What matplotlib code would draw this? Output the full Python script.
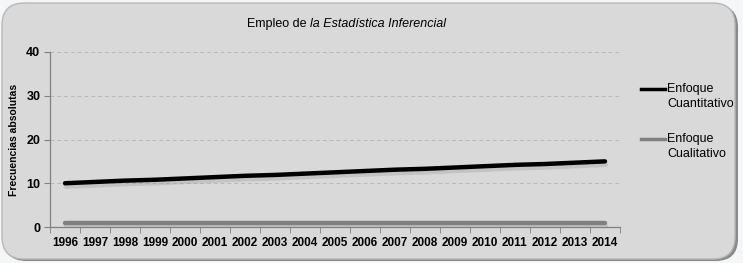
import matplotlib.pyplot as plt
import matplotlib.patheffects as pe
from matplotlib import font_manager
from matplotlib.patches import FancyBboxPatch

#data
years = [str(y) for y in range(1996, 2015)]
cuantitativo = [10.0, 10.3, 10.6, 10.8, 11.1, 11.4, 11.7, 11.9, 12.2, 12.5,
                12.8, 13.1, 13.3, 13.6, 13.9, 14.2, 14.4, 14.7, 15.0]
cualitativo = [1, 1, 1, 1, 1, 1, 1, 1, 1, 1, 1, 1, 1, 1, 1, 1, 1, 1, 1]
series_labels = ['Enfoque\nCuantitativo', 'Enfoque\nCualitativo']
series_colors = ['black', '#808080']
yticks = [0, 10, 20, 30, 40]

names = {f.name for f in font_manager.fontManager.ttflist}
narrow = 'Liberation Sans Narrow' if 'Liberation Sans Narrow' in names else 'Liberation Sans'
plt.rcParams['font.family'] = [narrow, 'DejaVu Sans']

W, H = 743, 263
fig = plt.figure(figsize=(W / 100, H / 100), dpi=100)
fig.patch.set_facecolor('#f4f6f8')

#rounded frame with shadow
shadow = FancyBboxPatch((4 / W, 2 / H), 734 / W, 256 / H, boxstyle='round,pad=0,rounding_size=0.03',
                        transform=fig.transFigure, facecolor='#8a8a8a', edgecolor='none', zorder=-2,
                        mutation_aspect=W / H)
frame = FancyBboxPatch((2 / W, 4 / H), 733 / W, 256 / H, boxstyle='round,pad=0,rounding_size=0.03',
                       transform=fig.transFigure, facecolor='#d9d9d9', edgecolor='#b8b8b8',
                       linewidth=1, zorder=-1, mutation_aspect=W / H)
fig.patches.extend([shadow, frame])

ax = fig.add_axes([50 / W, 1 - 227 / H, 570 / W, 175 / H])
ax.set_facecolor('none')

x = list(range(len(years)))
shadow_fx = [pe.SimpleLineShadow(offset=(0.5, -2.5), shadow_color='#9a9a9a', alpha=0.35), pe.Normal()]
for vals, col in zip([cuantitativo, cualitativo], series_colors):
    ax.plot(x, vals, color=col, linewidth=3.2, solid_capstyle='round', path_effects=shadow_fx)

ax.set_xlim(-0.5, len(years) - 0.5)
ax.set_ylim(0, 40)
ax.set_yticks(yticks)
ax.set_yticklabels([str(v) for v in yticks], fontsize=9, fontweight='bold')
ax.set_xticks(x)
ax.set_xticklabels(years, fontsize=8.5, fontweight='bold')
ax.set_xticks([i - 0.5 for i in range(len(years) + 1)], minor=True)
ax.tick_params(axis='x', which='major', length=0, pad=7)
ax.tick_params(axis='x', which='minor', length=4, color='#808080', direction='out')
ax.tick_params(axis='y', length=4, color='#808080', pad=3)

ax.grid(axis='y', color='#b8b8b8', linestyle=(0, (4, 3)), linewidth=0.7)
ax.set_axisbelow(True)
for side in ['top', 'right']:
    ax.spines[side].set_visible(False)
for side in ['left', 'bottom']:
    ax.spines[side].set_color('#808080')
    ax.spines[side].set_linewidth(0.9)

ax.set_ylabel('Frecuencias absolutas', fontsize=7.5, fontweight='bold', labelpad=5)

#legend drawn by hand: handle sits on the first text line
for i, (lab, col) in enumerate(zip(series_labels, series_colors)):
    yl = 1 - (89 + 50 * i) / H
    fig.add_artist(plt.Line2D([641 / W, 665 / W], [yl, yl], color=col, linewidth=2.5,
                              transform=fig.transFigure))
    fig.text(667 / W, yl + 6 / H, lab, fontsize=9, va='top', ha='left', linespacing=1.35)

#title: normal + italic part
t1 = fig.text(247 / W, 1 - 24 / H, 'Empleo de ', fontsize=9, va='center', ha='left')
fig.canvas.draw()
bb = t1.get_window_extent()
fig.text(bb.x1 / W, 1 - 24 / H, 'la Estadística Inferencial', fontsize=9, style='italic',
         va='center', ha='left')

fig.savefig('out.png', dpi=100, facecolor=fig.get_facecolor())
